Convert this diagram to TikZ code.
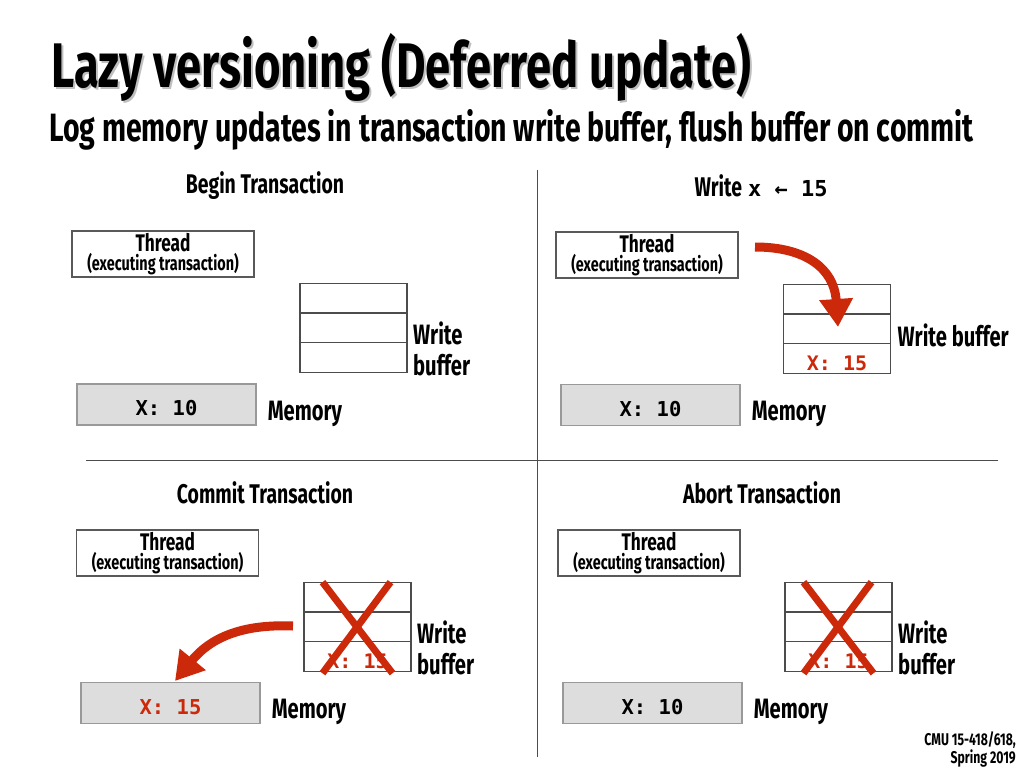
\documentclass[tikz,border=0pt]{standalone}
\usepackage{fontspec}
\setmainfont{Fira Sans}[FakeStretch=0.72]
\newfontfamily\codefont{DejaVu Sans Mono}
\usetikzlibrary{arrows.meta,positioning,calc}
\definecolor{slidered}{RGB}{204,40,10}
\definecolor{memgray}{RGB}{221,221,221}

\begin{document}
\begin{tikzpicture}
%Lazy versioning slide
	[
	 	 %Styles
       x=1pt, y=-1pt,
       title_text/.style={anchor=base west, inner sep=0, font=\fontsize{63}{63}\selectfont\bfseries},
       sub_text/.style={anchor=base west, inner sep=0, font=\fontsize{39.5}{40}\selectfont\bfseries},
       heading/.style={inner sep=0, font=\fontsize{27}{27}\selectfont\bfseries},
       thread_node/.style={rectangle, draw=black!65, line width=1.5pt, minimum width=182pt,
                           minimum height=46pt, inner sep=0, align=center,
                           font=\fontsize{24}{19}\selectfont\bfseries},
       cell/.style={rectangle, draw=black!70, line width=1.3pt, minimum width=107pt,
                    minimum height=29.7pt, inner sep=0, outer sep=0, text height=25pt, text depth=0pt,
                    font=\codefont\bfseries\fontsize{20}{20}\selectfont},
       mem_node/.style={rectangle, draw=black!40, line width=1.2pt, fill=memgray, minimum width=179pt,
                        minimum height=41pt, inner sep=0, text height=22pt, text depth=0pt,
                        font=\codefont\bfseries\fontsize{20.5}{20}\selectfont},
       label_simple/.style={inner sep=0, align=left, font=\fontsize{28}{31}\selectfont\bfseries},
       red_arrow/.style={draw=slidered, line width=9pt, -{Triangle[length=28pt,width=32pt]}},
       cross/.style={draw=slidered, line width=7pt},
       divider/.style={draw=black!70, line width=0.8pt}
    ]
    \useasboundingbox (0,0) rectangle (1024,768);

    %Title
    \node (titleshadow) [title_text, text=black!25] at (53,89) {Lazy versioning (Deferred update)};
    \node (title) [title_text] at (51,87) {Lazy versioning (Deferred update)};
    \node (subtitle) [sub_text] at (49,141) {Log memory updates in transaction write buffer, flush buffer on commit};

    %Dividers
    \coordinate (vtop) at (537,170);
    \coordinate (vbot) at (537,757);
    \coordinate (hleft) at (86,460);
    \coordinate (hright) at (998,460);
    \draw[divider] (vtop) -- (vbot);
    \draw[divider] (hleft) -- (hright);

    %Panel 1: begin
    \node (head1) [heading] at (265,186) {Begin Transaction};
    \node (thread1) [thread_node] at (163,254) {Thread\\{\fontsize{20}{19}\selectfont(executing transaction)}};
    \node (buf1a) [cell] at (353.5,298) {};
    \node (buf1b) [cell, below=0pt of buf1a] {};
    \node (buf1c) [cell, below=0pt of buf1b] {};
    \node (wb1) [label_simple, anchor=south west] at ($(buf1c.south east)+(6,4)$) {Write\\buffer};
    \node (mem1) [mem_node] at (166.5,404.5) {X: 10};
    \node (memlab1) [label_simple, right=11pt of mem1, yshift=-9pt] {Memory};

    %Panel 2: write
    \node (head2) [heading] at (761,186) {Write\hspace{6pt}{\codefont\fontsize{22}{22}\selectfont x ← 15}};
    \node (thread2) [thread_node] at (647,255) {Thread\\{\fontsize{20}{19}\selectfont(executing transaction)}};
    \node (buf2a) [cell] at (837,299) {};
    \node (buf2b) [cell, below=0pt of buf2a] {};
    \node (buf2c) [cell, below=0pt of buf2b, text=slidered] {X: 15};
    \node (wb2) [label_simple, right=7pt of buf2b, yshift=-7pt] {Write buffer};
    \node (mem2) [mem_node] at (650.5,405) {X: 10};
    \node (memlab2) [label_simple, right=11pt of mem2, yshift=-9pt] {Memory};
    \coordinate (wstart) at (755,247);
    \coordinate (wtip) at (838,327);
    \draw[red_arrow] (wstart) .. controls (805,247) and (834,268) .. (wtip);

    %Panel 3: commit
    \node (head3) [heading] at (265,493) {Commit Transaction};
    \node (thread3) [thread_node] at (167.5,553) {Thread\\{\fontsize{20}{19}\selectfont(executing transaction)}};
    \node (buf3a) [cell] at (357.5,597) {};
    \node (buf3b) [cell, below=0pt of buf3a] {};
    \node (buf3c) [cell, below=0pt of buf3b, text=slidered] {X: 15};
    \node (wb3) [label_simple, anchor=south west] at ($(buf3c.south east)+(6,4)$) {Write\\buffer};
    \draw[cross] ($(buf3a.north)+(-35,0)$) -- ($(buf3c.south)+(35,2)$);
    \draw[cross] ($(buf3a.north)+(33,0)$) -- ($(buf3c.south)+(-35,2)$);
    \node (mem3) [mem_node, text=slidered] at (170.5,703) {X: 15};
    \node (memlab3) [label_simple, right=11pt of mem3, yshift=-9pt] {Memory};
    \coordinate (cstart) at (293,626);
    \coordinate (ctip) at (175,681);
    \draw[red_arrow] (cstart) .. controls (245,624) and (212,636) .. (ctip);

    %Panel 4: abort
    \node (head4) [heading] at (762,493) {Abort Transaction};
    \node (thread4) [thread_node] at (649,553) {Thread\\{\fontsize{20}{19}\selectfont(executing transaction)}};
    \node (buf4a) [cell] at (838.5,597) {};
    \node (buf4b) [cell, below=0pt of buf4a] {};
    \node (buf4c) [cell, below=0pt of buf4b, text=slidered] {X: 15};
    \node (wb4) [label_simple, anchor=south west] at ($(buf4c.south east)+(6,4)$) {Write\\buffer};
    \draw[cross] ($(buf4a.north)+(-35,0)$) -- ($(buf4c.south)+(35,2)$);
    \draw[cross] ($(buf4a.north)+(33,0)$) -- ($(buf4c.south)+(-35,2)$);
    \node (mem4) [mem_node] at (652.5,703) {X: 10};
    \node (memlab4) [label_simple, right=11pt of mem4, yshift=-9pt] {Memory};

    %Footer
    \node (footer) [inner sep=0, anchor=north east, align=right, font=\fontsize{17}{18}\selectfont\bfseries]
       at (1016,731) {CMU 15-418/618,\\Spring 2019};
\end{tikzpicture}
\end{document}
